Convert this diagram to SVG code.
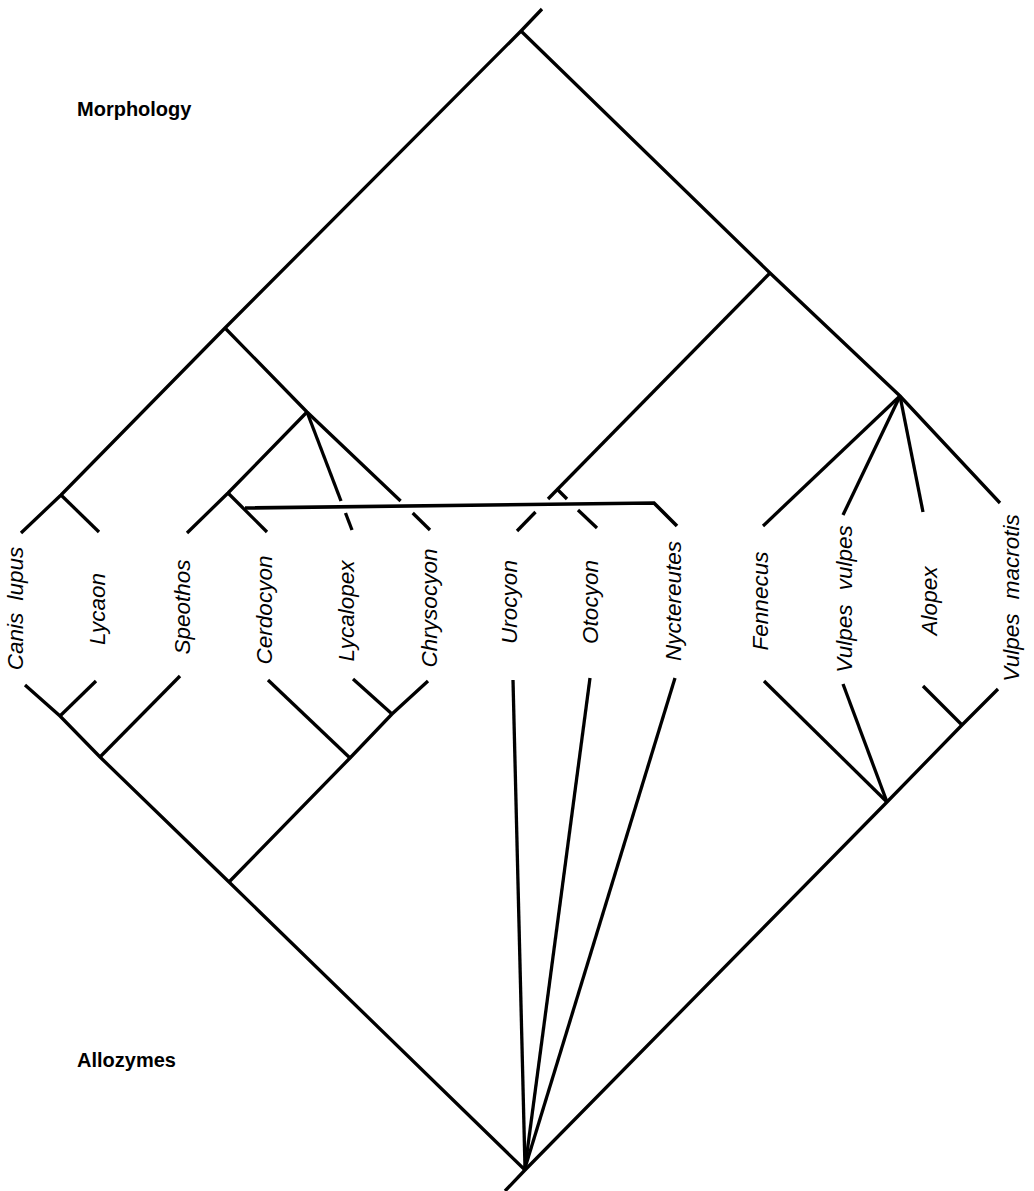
<svg xmlns="http://www.w3.org/2000/svg" width="1034" height="1191" viewBox="0 0 1034 1191">
<style>
  .ln { fill: none; stroke: #000; stroke-width: 3.3; stroke-linecap: butt; stroke-linejoin: miter; }
  .tx { font-family: "Liberation Sans", Arial, sans-serif; font-style: italic; font-size: 22.5px; fill: #000; text-anchor: middle; }
  .hd { font-family: "Liberation Sans", Arial, sans-serif; font-weight: bold; font-size: 20px; fill: #000; }
</style>
<rect width="1034" height="1191" fill="#fff"/>
<g id="connectors">
  <!-- Morphology tree -->
  <polyline class="ln" points="542,9 521,31 225,328 61,495 21,533"/>
  <polyline class="ln" points="61,495 99,532"/>
  <polyline class="ln" points="225,328 307,412 400.6,501"/>
  <polyline class="ln" points="412.7,513 430,530"/>
  <polyline class="ln" points="307,412 228,493 187,533"/>
  <polyline class="ln" points="228,493 267,532"/>
  <polyline class="ln" points="307,412 341,501"/>
  <polyline class="ln" points="345.5,513 352,530"/>
  <polyline class="ln" points="245,508 654,503 677,526" style="stroke-width:3.6"/>
  <polyline class="ln" points="521,31 770,273 900,396 1000,503"/>
  <polyline class="ln" points="770,273 548,499"/>
  <polyline class="ln" points="535.5,512 517,531"/>
  <polyline class="ln" points="558,490 567,499"/>
  <polyline class="ln" points="578,510 597,528"/>
  <polyline class="ln" points="900,396 763,526"/>
  <polyline class="ln" points="900,396 843,515"/>
  <polyline class="ln" points="900,396 923,512"/>
  <!-- Allozymes tree -->
  <polyline class="ln" points="25,685 60,716 100,757 229,882 525,1170"/>
  <polyline class="ln" points="505,1191 525,1170 887,802 962,725 998,689"/>
  <polyline class="ln" points="60,716 96,681"/>
  <polyline class="ln" points="100,757 180,676"/>
  <polyline class="ln" points="229,882 350,758 392,714 428,681"/>
  <polyline class="ln" points="350,758 268,680"/>
  <polyline class="ln" points="392,714 353,679"/>
  <polyline class="ln" points="962,725 923,686"/>
  <polyline class="ln" points="887,802 764,681"/>
  <polyline class="ln" points="887,802 843,684"/>
  <polyline class="ln" points="525,1168 513,680"/>
  <polyline class="ln" points="525,1168 590,678"/>
  <polyline class="ln" points="525,1168 675,678"/>
</g>
<g id="title-morphology"><text class="hd" x="77" y="116">Morphology</text></g>
<g id="title-allozymes"><text class="hd" x="77" y="1067">Allozymes</text></g>
<g id="canis-lupus"><text class="tx" transform="translate(23,608.5) rotate(-90)">Canis<tspan dx="6"> lupus</tspan></text></g>
<g id="lycaon"><text class="tx" transform="translate(105,609) rotate(-90)">Lycaon</text></g>
<g id="speothos"><text class="tx" transform="translate(190,607) rotate(-90)">Speothos</text></g>
<g id="cerdocyon"><text class="tx" transform="translate(272,610) rotate(-90)">Cerdocyon</text></g>
<g id="lycalopex"><text class="tx" transform="translate(354,611) rotate(-90)">Lycalopex</text></g>
<g id="chrysocyon"><text class="tx" transform="translate(437,608) rotate(-90)">Chrysocyon</text></g>
<g id="urocyon"><text class="tx" transform="translate(517,602) rotate(-90)">Urocyon</text></g>
<g id="otocyon"><text class="tx" transform="translate(598,602) rotate(-90)">Otocyon</text></g>
<g id="nyctereutes"><text class="tx" transform="translate(681,601) rotate(-90)">Nyctereutes</text></g>
<g id="fennecus"><text class="tx" transform="translate(768,601) rotate(-90)">Fennecus</text></g>
<g id="vulpes-vulpes"><text class="tx" transform="translate(852,599) rotate(-90)">Vulpes<tspan dx="8"> vulpes</tspan></text></g>
<g id="alopex"><text class="tx" transform="translate(937,601) rotate(-90)">Alopex</text></g>
<g id="vulpes-macrotis"><text class="tx" transform="translate(1019,598) rotate(-90)">Vulpes<tspan dx="8"> macrotis</tspan></text></g>
</svg>
